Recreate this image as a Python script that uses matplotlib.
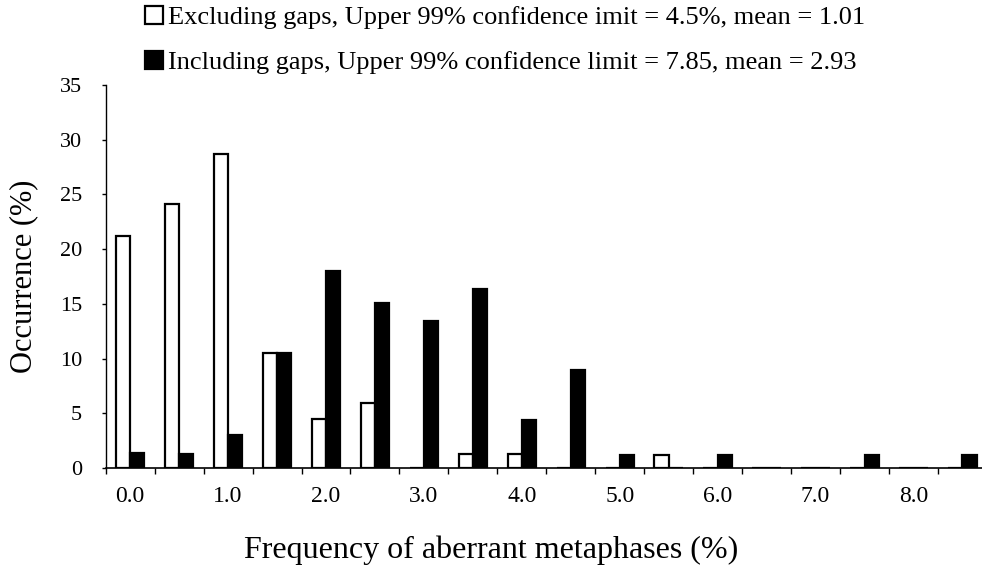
import matplotlib
matplotlib.use("Agg")
import matplotlib.pyplot as plt
import numpy as np

plt.rcParams['font.family'] = ['Liberation Serif', 'DejaVu Serif']

categories = ["0.0", "0.5", "1.0", "1.5", "2.0", "2.5", "3.0", "3.5", "4.0",
              "4.5", "5.0", "5.5", "6.0", "6.5", "7.0", "7.5", "8.0", "8.5"]
excluding = [21.2, 24.1, 28.7, 10.5, 4.45, 5.9, 0, 1.25, 1.25,
             0, 0, 1.2, 0, 0, 0, 0, 0, 0]
including = [1.4, 1.3, 3.0, 10.5, 18.0, 15.05, 13.4, 16.4, 4.4,
             9.0, 1.2, 0, 1.2, 0, 0, 1.2, 0, 1.2]
label_excl = "Excluding gaps, Upper 99% confidence imit = 4.5%, mean = 1.01"
label_incl = "Including gaps, Upper 99% confidence limit = 7.85, mean = 2.93"
yticks = [0, 5, 10, 15, 20, 25, 30, 35]

fig = plt.figure(figsize=(9.82, 5.69), dpi=100)
ax = fig.add_axes([105.7/982, 1-468/569, (982-105.7)/982, (468-85)/569])

x = np.arange(len(categories))
w = 0.29
b1 = ax.bar(x - w/2, excluding, width=w, color='white', edgecolor='black', linewidth=1.6, label=label_excl)
b2 = ax.bar(x + w/2, including, width=w, color='black', edgecolor='black', linewidth=1.6, label=label_incl)

ax.set_xlim(-0.5, 17.4)
ax.set_ylim(0, 35)
ax.spines['top'].set_visible(False)
ax.spines['right'].set_visible(False)
ax.spines['left'].set_linewidth(1.0)
ax.spines['bottom'].set_linewidth(1.2)

ax.set_yticks(yticks)
ax.set_yticklabels([str(v) for v in yticks], fontsize=16)
ax.tick_params(axis='y', direction='out', length=3, width=1, pad=14)

major = x[::2]
ax.set_xticks(major)
ax.set_xticklabels([categories[i] for i in major], fontsize=17)
ax.set_xticks(np.arange(len(categories)) - 0.5, minor=True)
ax.tick_params(axis='x', which='major', length=0, pad=13)
ax.tick_params(axis='x', which='minor', direction='out', length=4, width=1)

ax.set_xlabel("Frequency of aberrant metaphases (%)", fontsize=23)
ax.xaxis.set_label_coords((491-105.7)/876.3, -0.175)
ax.set_ylabel("Occurrence (%)", fontsize=22)
ax.yaxis.set_label_coords((38-105.7)/876.3, 0.5)

fig.legend(handles=[b1, b2], loc='upper left', bbox_to_anchor=(145/982, 1-6/569),
           frameon=False, fontsize=19, handlelength=0.68, handleheight=0.68,
           handletextpad=0.2, labelspacing=0.82, borderaxespad=0, borderpad=0)

fig.savefig("out.png", dpi=100)
